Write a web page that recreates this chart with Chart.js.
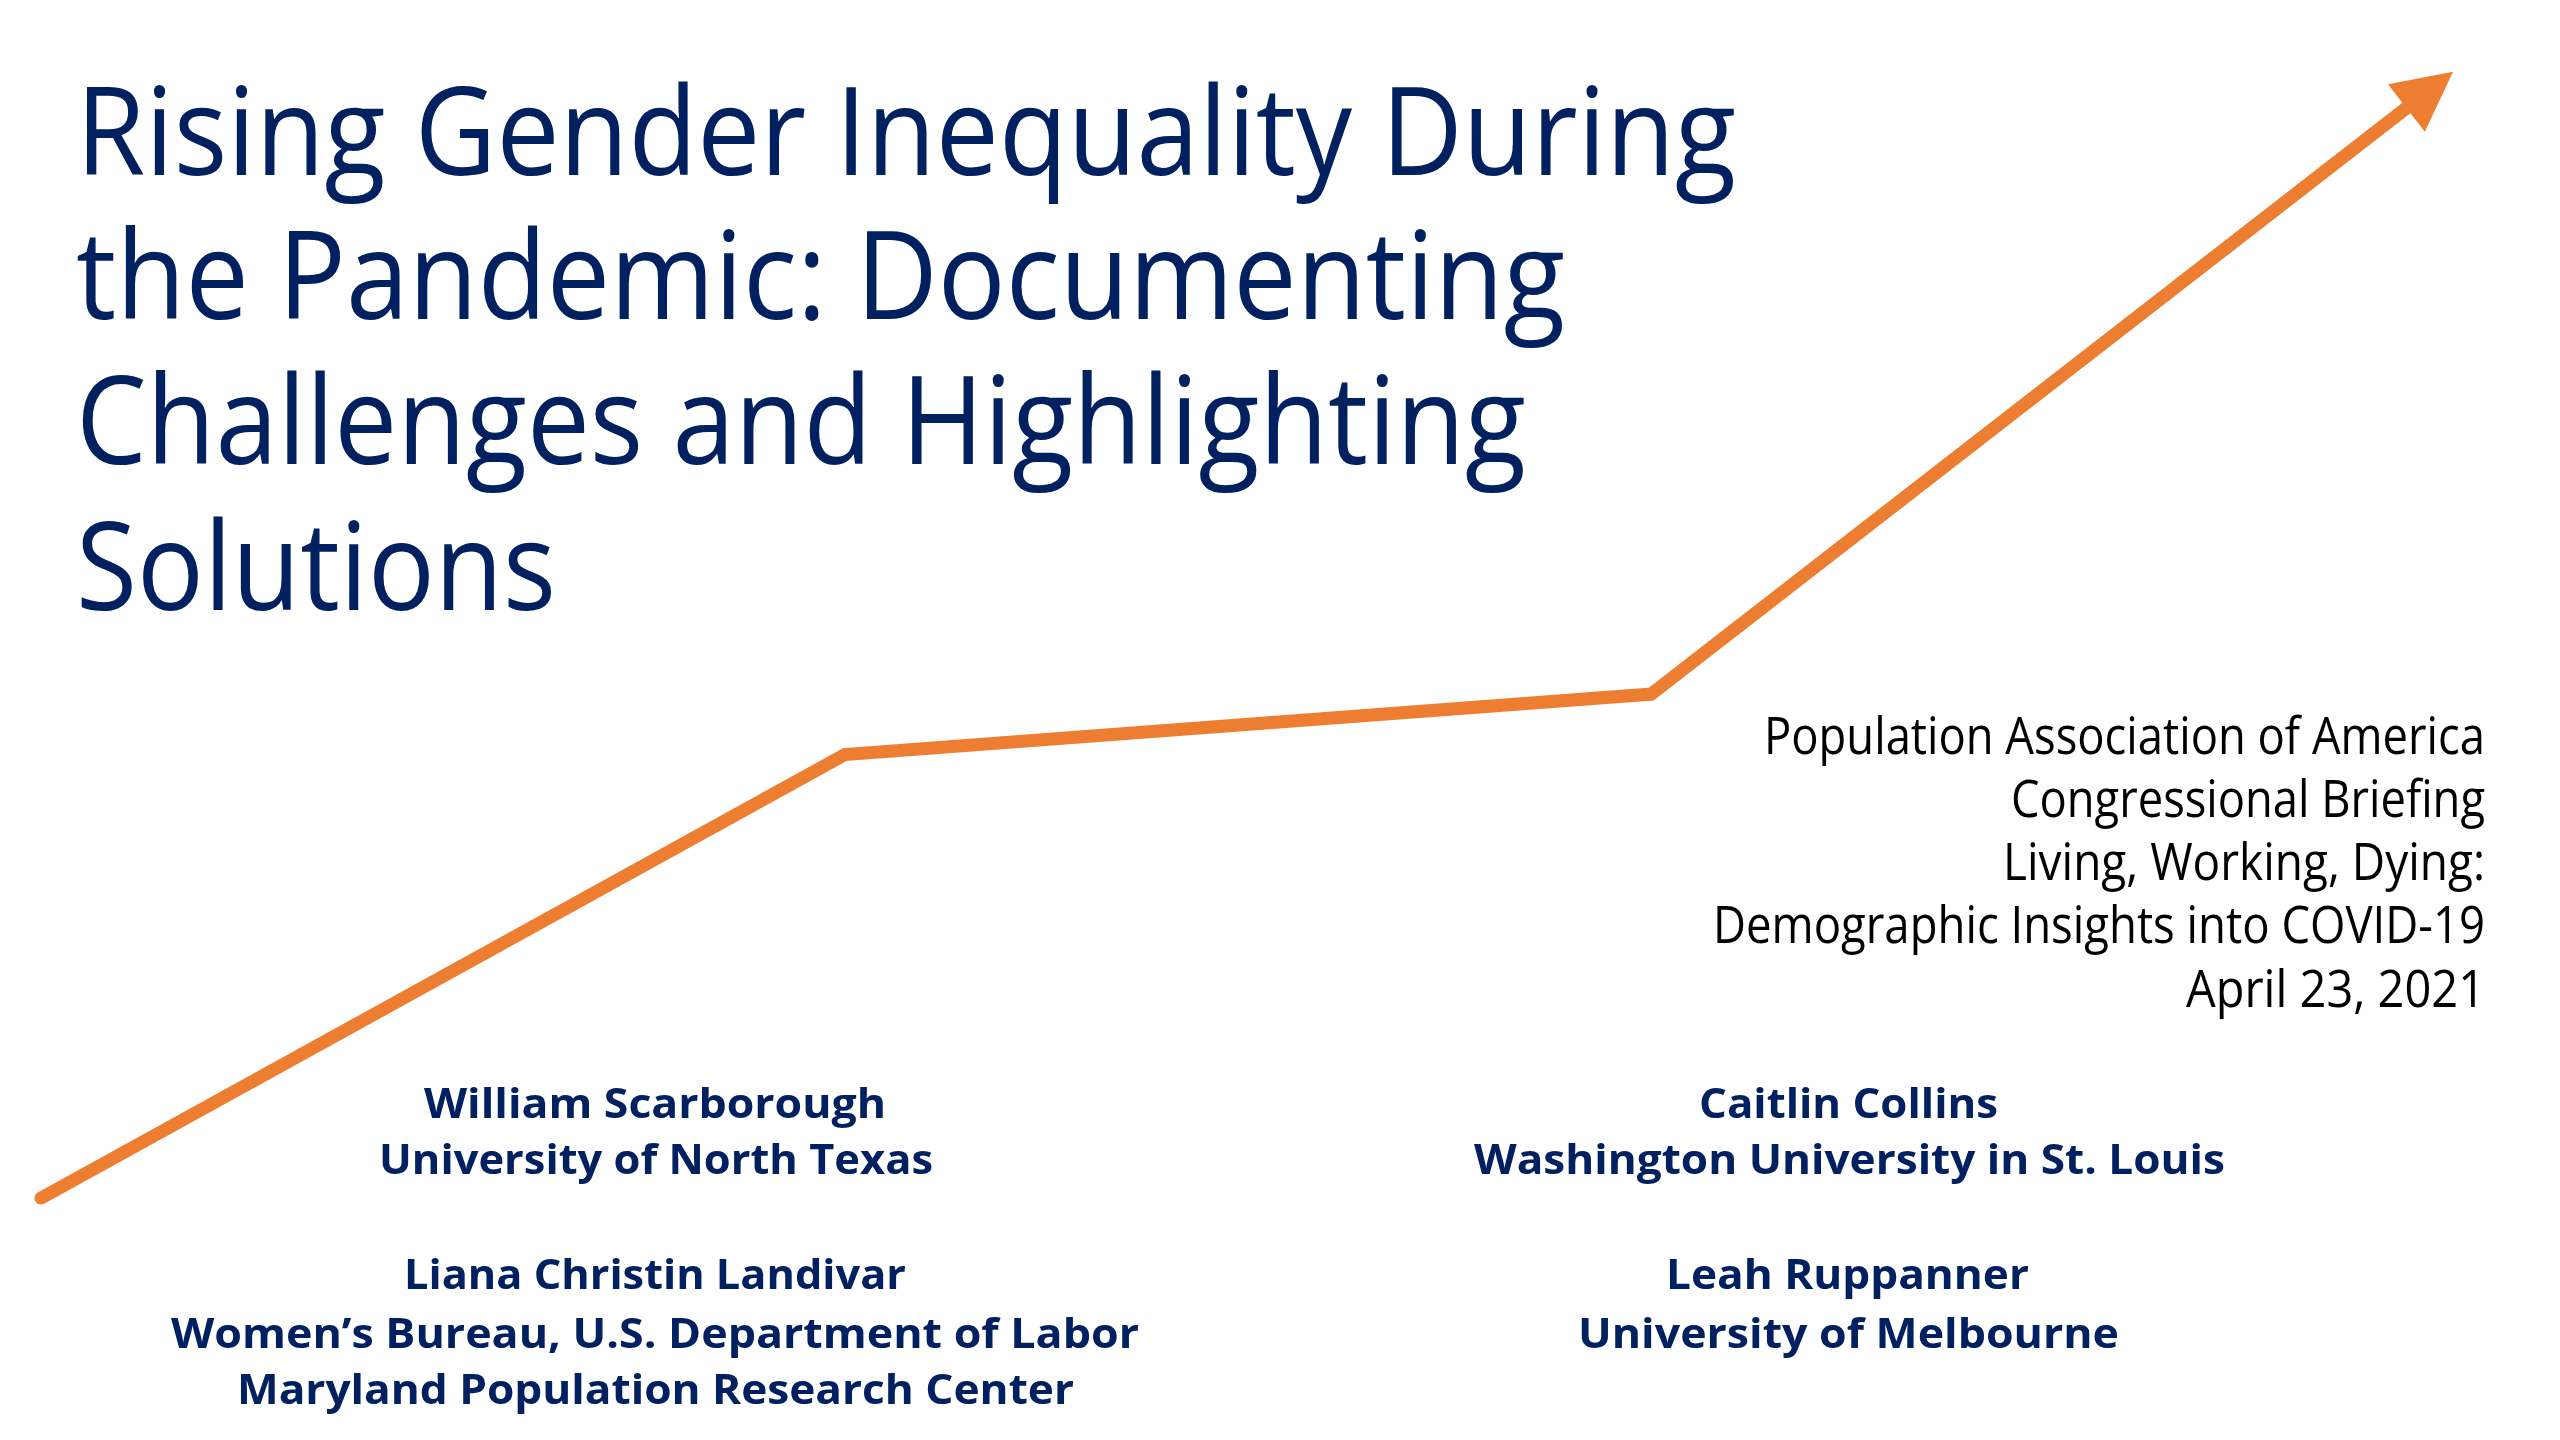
<!DOCTYPE html>
<html>
<head>
<meta charset="utf-8">
<script src="https://cdn.jsdelivr.net/npm/chart.js@4.4.1/dist/chart.umd.min.js"></script>
<style>
  html, body { margin: 0; padding: 0; background: #fff; overflow: hidden; }
  #wrap { position: relative; width: 2560px; height: 1440px; }
  #wrap canvas { position: absolute; left: 0; top: 0; }
  .ln { position: absolute; white-space: nowrap; line-height: 1.2; transform-origin: 0 0; }
  .ln .b { display: inline-block; width: 0; height: 0; vertical-align: baseline; }
  .title { font: 500 122px "Open Sans", sans-serif; color: #002060; }
  .brief { font: 400 51px "Open Sans", sans-serif; color: #000; }
  .author { font: 700 41px "Open Sans", sans-serif; color: #002060; }
</style>
</head>
<body>
<div id="wrap">
  <canvas id="trend"></canvas>
</div>
<script>
// trend line: phase position vs. gender inequality (rough index, 0-100)
const phases = ['Before', 'Early pandemic', 'Mid pandemic', 'Now'];
const phaseX = [1.6, 33.0, 64.5, 94.0];
const inequality = [16.8, 47.6, 51.8, 92.5];

// slide texts
const titleLines = [
  'Rising Gender Inequality During',
  'the Pandemic: Documenting',
  'Challenges and Highlighting',
  'Solutions'
];
const briefLines = [
  'Population Association of America',
  'Congressional Briefing',
  'Living, Working, Dying:',
  'Demographic Insights into COVID-19',
  'April 23, 2021'
];
const authorsLeft = [
  'William Scarborough',
  'University of North Texas',
  'Liana Christin Landivar',
  'Women\u2019s Bureau, U.S. Department of Labor',
  'Maryland Population Research Center'
];
const authorsRight = [
  'Caitlin Collins',
  'Washington University in St. Louis',
  'Leah Ruppanner',
  'University of Melbourne'
];

// where each text line goes: [left, right, baseline]
const titleBox = [[76, 1736, 175], [76, 1565, 319], [76, 1526, 464], [76, 556, 610]];
const briefBox = [[1764, 2485, 754], [2011, 2485, 817], [2003, 2485, 880], [1713, 2485, 943], [2186, 2485, 1007]];
const leftBox = [[424, 886, 1118], [379, 933, 1174], [404, 906, 1289], [171, 1139, 1348], [237, 1074, 1404]];
const rightBox = [[1699, 1998, 1118], [1474, 2225, 1174], [1666, 2029, 1289], [1578, 2119, 1348]];

const wrap = document.getElementById('wrap');
const placed = [];

function addLines(lines, boxes, cls) {
  lines.forEach((txt, i) => {
    const el = document.createElement('div');
    el.className = 'ln ' + cls;
    const t = document.createElement('span');
    t.className = 't';
    t.textContent = txt;
    const b = document.createElement('span');
    b.className = 'b';
    el.appendChild(t);
    el.appendChild(b);
    wrap.appendChild(el);
    placed.push([el, boxes[i]]);
  });
}

function layoutText() {
  placed.forEach(([el, box]) => {
    el.style.transform = 'none';
    el.style.left = box[0] + 'px';
    el.style.top = '0px';
    const w = el.querySelector('.t').getBoundingClientRect().width;
    const base = el.querySelector('.b').offsetTop;
    el.style.top = (box[2] - base) + 'px';
    el.style.transform = 'scaleX(' + ((box[1] - box[0]) / w) + ')';
  });
}

addLines(titleLines, titleBox, 'title');
addLines(briefLines, briefBox, 'brief');
addLines(authorsLeft, leftBox, 'author');
addLines(authorsRight, rightBox, 'author');
layoutText();
if (document.fonts && document.fonts.ready) document.fonts.ready.then(layoutText);

// arrow head at the end of the line
const arrowHead = {
  id: 'arrowHead',
  afterDatasetsDraw(chart) {
    const pts = chart.getDatasetMeta(0).data;
    const a = pts[pts.length - 2], b = pts[pts.length - 1];
    const dx = b.x - a.x, dy = b.y - a.y;
    const len = Math.hypot(dx, dy);
    const ux = dx / len, uy = dy / len;
    const headLen = 59, half = 30;
    const ctx = chart.ctx;
    ctx.save();
    ctx.fillStyle = '#ED7D31';
    ctx.beginPath();
    ctx.moveTo(b.x + ux * headLen, b.y + uy * headLen);
    ctx.lineTo(b.x - uy * half, b.y + ux * half);
    ctx.lineTo(b.x + uy * half, b.y - ux * half);
    ctx.closePath();
    ctx.fill();
    ctx.restore();
  }
};

const trendData = {
  labels: phases,
  datasets: [{
    data: phaseX.map((x, i) => ({ x: x, y: inequality[i] })),
    borderColor: '#ED7D31',
    borderWidth: 13,
    borderCapStyle: 'round',
    borderJoinStyle: 'miter',
    pointRadius: 0,
    tension: 0,
    fill: false
  }]
};

const trendConfig = {
  type: 'line',
  data: trendData,
  options: {
    responsive: false,
    animation: false,
    layout: { padding: 0 },
    scales: {
      x: { type: 'linear', min: 0, max: 100, display: false },
      y: { min: 0, max: 100, display: false }
    },
    plugins: {
      legend: { display: false },
      tooltip: { enabled: false }
    }
  },
  plugins: [arrowHead]
};

const cv = document.getElementById('trend');
cv.width = 2560;
cv.height = 1440;
cv.style.width = '2560px';
cv.style.height = '1440px';
const trendChart = new Chart(cv.getContext('2d'), trendConfig);
</script>
</body>
</html>
